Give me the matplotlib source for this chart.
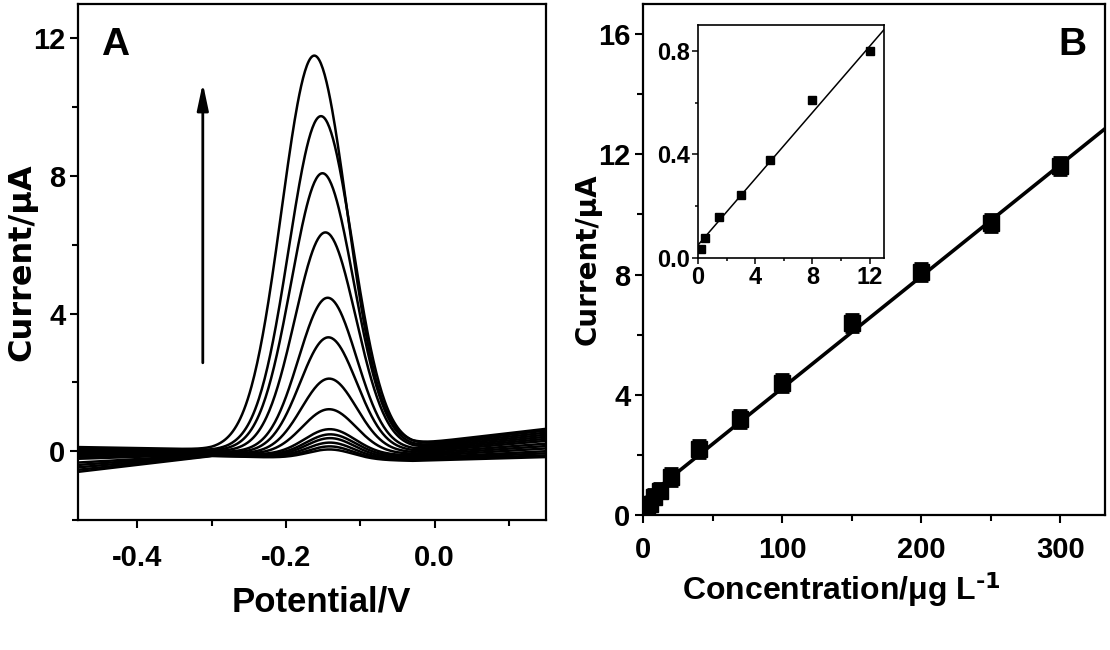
import numpy as np
import matplotlib.pyplot as plt
from matplotlib.ticker import MultipleLocator

plt.rcParams['font.family'] = ['Liberation Sans', 'DejaVu Sans']
plt.rcParams['font.weight'] = 'bold'
plt.rcParams['mathtext.default'] = 'regular'

# ---- panel A: DPV curves (largest peak first) ----
peak_current = [11.5, 9.74, 8.08, 6.36, 4.46, 3.31, 2.11, 1.22, 0.64, 0.49, 0.38, 0.25, 0.14, 0.05]
peak_potential = [-0.162, -0.153, -0.151, -0.147, -0.144, -0.143, -0.142, -0.142,
                  -0.141, -0.140, -0.140, -0.140, -0.140, -0.140]
peak_width = [0.044, 0.043, 0.042, 0.041, 0.039, 0.038, 0.037, 0.036,
              0.034, 0.033, 0.032, 0.031, 0.030, 0.030]
# baseline current at the potentials in base_knots
base_knots = [-0.48, -0.30, -0.03, 0.15]
base_start = [0.12, 0.08, 0.04, 0.0, -0.04, -0.08, -0.12, -0.17, -0.22, -0.33, -0.40, -0.47, -0.54, -0.60]
base_cross = [0.05, 0.03, 0.01, -0.01, -0.03, -0.05, -0.07, -0.08, -0.09, -0.10, -0.11, -0.12, -0.13, -0.14]
base_dip = [0.20, 0.16, 0.12, 0.08, 0.04, 0.0, -0.04, -0.08, -0.12, -0.16, -0.20, -0.23, -0.26, -0.28]
base_end = [0.65, 0.60, 0.54, 0.48, 0.42, 0.36, 0.30, 0.22, 0.15, 0.08, 0.0, -0.06, -0.12, -0.17]
arrow_potential = -0.312
arrow_current = [2.57, 10.7]

# ---- panel B: calibration data ----
conc = [0.2, 0.5, 1.5, 3, 5, 8, 12, 20, 40, 70, 100, 150, 200, 250, 300]
current = [0.035, 0.077, 0.16, 0.245, 0.38, 0.61, 0.80, 1.25, 2.2, 3.2, 4.4, 6.4, 8.1, 9.7, 11.6]
current_err = [0.15, 0.15, 0.15, 0.15, 0.2, 0.25, 0.25, 0.3, 0.3, 0.3, 0.3, 0.3, 0.3, 0.3, 0.3]
fit_main = (0.0372, 0.5)     # slope, intercept
fit_inset = (0.064, 0.05)
inset_n = 7                  # points shown in the inset

fig = plt.figure(figsize=(11.1, 6.5), dpi=100)
W, H = 1110, 650

axA = fig.add_axes([78 / W, (H - 520) / H, (546 - 78) / W, (520 - 4) / H])
axB = fig.add_axes([643 / W, (H - 515) / H, (1105 - 643) / W, (515 - 4) / H])
axI = fig.add_axes([698 / W, (H - 258) / H, (884 - 698) / W, (258 - 25) / H])

# panel A
E = np.linspace(-0.48, 0.15, 500)
for i in range(len(peak_current)):
    knots_i = [base_start[i], base_cross[i], base_dip[i], base_end[i]]
    base = np.interp(E, base_knots, knots_i)
    b0 = np.interp(peak_potential[i], base_knots, knots_i)
    g = np.exp(-0.5 * ((E - peak_potential[i]) / peak_width[i]) ** 2)
    axA.plot(E, base + (peak_current[i] - b0) * g, color='black', lw=1.8)

axA.annotate('', xy=(arrow_potential, arrow_current[1]), xytext=(arrow_potential, arrow_current[0]),
             arrowprops=dict(arrowstyle='-|>,head_length=0.8,head_width=0.17', color='black',
                             lw=2, mutation_scale=20, shrinkA=0, shrinkB=0))

axA.set_xlim(-0.48, 0.15)
axA.set_ylim(-2, 13)
axA.set_xticks([-0.4, -0.2, 0.0])
axA.set_xticklabels(['-0.4', '-0.2', '0.0'])
axA.xaxis.set_minor_locator(MultipleLocator(0.1))
axA.yaxis.set_major_locator(MultipleLocator(4))
axA.yaxis.set_minor_locator(MultipleLocator(2))
axA.text(0.05, 0.955, 'A', transform=axA.transAxes, fontsize=28, fontweight='bold',
         va='top', ha='left')
axA.set_xlabel('Potential/V', fontsize=25, fontweight='bold')
axA.xaxis.set_label_coords(0.52, -0.126)
axA.set_ylabel('Current/μA', fontsize=23, fontweight='bold', family='DejaVu Sans')
axA.yaxis.set_label_coords(-0.087, 0.5)
for lab in axA.get_xticklabels() + axA.get_yticklabels():
    lab.set_fontsize(21)
    lab.set_fontweight('bold')

# panel B
xs = np.array([0, 332])
axB.plot(xs, fit_main[0] * xs + fit_main[1], color='black', lw=2.6)
axB.errorbar(conc, current, yerr=current_err, fmt='s', color='black', ms=11,
             elinewidth=2, capsize=5, capthick=2)
axB.set_xlim(0, 332)
axB.set_ylim(0, 17)
axB.xaxis.set_major_locator(MultipleLocator(100))
axB.xaxis.set_minor_locator(MultipleLocator(50))
axB.yaxis.set_major_locator(MultipleLocator(4))
axB.yaxis.set_minor_locator(MultipleLocator(2))
axB.text(0.93, 0.955, 'B', transform=axB.transAxes, fontsize=28, fontweight='bold',
         va='top', ha='center')
axB.set_xlabel(r'Concentration/μg L$^{\text{-1}}$', fontsize=23, fontweight='bold')
axB.xaxis.set_label_coords(0.43, -0.108)
axB.set_ylabel('Current/μA', fontsize=20, fontweight='bold', family='DejaVu Sans')
axB.yaxis.set_label_coords(-0.089, 0.5)
for lab in axB.get_xticklabels() + axB.get_yticklabels():
    lab.set_fontsize(21)
    lab.set_fontweight('bold')

# inset
xi = np.array([0, 13])
axI.plot(xi, fit_inset[0] * xi + fit_inset[1], color='black', lw=1.1)
axI.plot(conc[:inset_n], current[:inset_n], 's', color='black', ms=6)
axI.set_xlim(0, 13)
axI.set_ylim(0, 0.9)
axI.xaxis.set_major_locator(MultipleLocator(4))
axI.xaxis.set_minor_locator(MultipleLocator(2))
axI.set_yticks([0.0, 0.4, 0.8])
axI.set_yticklabels(['0.0', '0.4', '0.8'])
axI.yaxis.set_minor_locator(MultipleLocator(0.2))
for lab in axI.get_xticklabels() + axI.get_yticklabels():
    lab.set_family(['Liberation Sans', 'DejaVu Sans'])
    lab.set_fontsize(17)
    lab.set_fontweight('bold')

for ax in (axA, axB):
    for s in ax.spines.values():
        s.set_linewidth(1.6)
    ax.tick_params(which='both', direction='out', top=False, right=False, width=1.5)
    ax.tick_params(which='major', length=6)
    ax.tick_params(which='minor', length=4)
axA.tick_params(axis='x', pad=11)
axA.tick_params(axis='y', pad=3)
axB.tick_params(axis='x', pad=9)
axB.tick_params(axis='y', pad=3)
for s in axI.spines.values():
    s.set_linewidth(1.2)
axI.tick_params(which='both', direction='out', top=False, right=False, width=1.1, pad=2)
axI.tick_params(which='major', length=4)
axI.tick_params(which='minor', length=2.5)

fig.savefig('out.png', dpi=100)
